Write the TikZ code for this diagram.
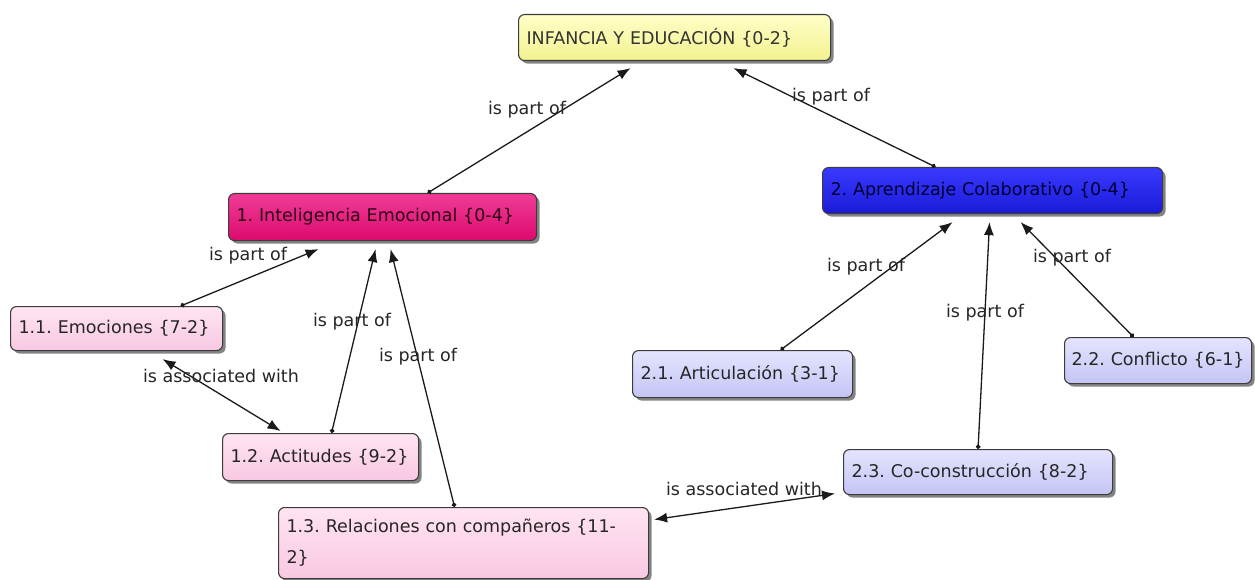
\documentclass[tikz,border=0pt]{standalone}
\usepackage{fontspec}
\setmainfont{DejaVu Sans}
\usetikzlibrary{arrows.meta,shadows}
\definecolor{edgec}{HTML}{1A1A1A}
\definecolor{bord}{HTML}{3C3C3C}
\definecolor{yelT}{HTML}{FFFFC8}
\definecolor{yelB}{HTML}{F2F290}
\definecolor{magT}{HTML}{F03C96}
\definecolor{magB}{HTML}{DC0A6E}
\definecolor{bluT}{HTML}{3A3AFF}
\definecolor{bluB}{HTML}{1A1AD8}
\definecolor{pnkT}{HTML}{FFE4F2}
\definecolor{pnkB}{HTML}{F8C8E2}
\definecolor{lavT}{HTML}{E4E4FF}
\definecolor{lavB}{HTML}{C4C4F4}
\tikzset{
  box/.style={draw=bord, line width=1.1pt, rounded corners=6pt, anchor=north west,
    inner xsep=8pt, align=left, font=\fontsize{17.5}{21}\selectfont,
    drop shadow={shadow xshift=3pt, shadow yshift=-3pt, fill=black!60, opacity=0.8}},
  yelbox/.style={box, top color=yelT, bottom color=yelB, text=black!80},
  magbox/.style={box, top color=magT, bottom color=magB, text=black!80!magB},
  blubox/.style={box, top color=bluT, bottom color=bluB, text=black!80!blue},
  pnkbox/.style={box, top color=pnkT, bottom color=pnkB, text=black!85},
  lavbox/.style={box, top color=lavT, bottom color=lavB, text=black!85},
  rel/.style={draw=edgec, line width=1.3pt, {Circle[length=4.5pt]}-{Latex[length=13pt,width=10pt]}},
  assoc/.style={draw=edgec, line width=1.3pt, {Latex[length=13pt,width=10pt]}-{Latex[length=13pt,width=10pt]}},
  lbl/.style={font=\fontsize{17.5}{21}\selectfont, text=black!85, inner sep=0pt}
}
\begin{document}
\frenchspacing
\begin{tikzpicture}[x=1pt,y=-1pt]
\useasboundingbox[fill=white] (0,0) rectangle (1255,580);
% nodes
\node[yelbox, text width=296pt, minimum height=46pt] (inf) at (518,14) {\mbox{INFANCIA Y EDUCACIÓN \{0-2\}}};
\node[magbox, text width=292pt, minimum height=47pt] (ie) at (228,193) {\mbox{1. Inteligencia Emocional \{0-4\}}};
\node[blubox, text width=324pt, minimum height=46pt] (ac) at (822,167) {\mbox{2. Aprendizaje Colaborativo \{0-4\}}};
\node[pnkbox, text width=196pt, minimum height=44pt] (em) at (10,306) {\mbox{1.1. Emociones \{7-2\}}};
\node[pnkbox, text width=180pt, minimum height=47pt] (at) at (222,433) {\mbox{1.2. Actitudes \{9-2\}}};
\node[pnkbox, text width=354pt, minimum height=71pt, font=\fontsize{17.5}{31}\selectfont] (re) at (278,507) {1.3. Relaciones con compañeros \{11-\\2\}};
\node[lavbox, text width=204pt, minimum height=47pt] (ar) at (632,350) {\mbox{2.1. Articulación \{3-1\}}};
\node[lavbox, inner xsep=7pt, text width=173pt, minimum height=46pt] (co) at (1064,337) {\mbox{2.2. Conflicto \{6-1\}}};
\node[lavbox, text width=253pt, minimum height=45pt] (cc) at (843,449) {\mbox{2.3. Co-construcción \{8-2\}}};
% connectors
\draw[rel] ([xshift=45pt]ie.north) -- ([xshift=-44pt,yshift=-7pt]inf.south);
\draw[rel] ([xshift=-57pt]ac.north) -- ([xshift=59pt,yshift=-7pt]inf.south);
\draw[rel] ([xshift=64pt]em.north) -- ([xshift=-64pt,yshift=-8pt]ie.south);
\draw[rel] ([xshift=11pt]at.north) -- ([xshift=-7pt,yshift=-8pt]ie.south);
\draw[rel] ([xshift=-9pt]re.north) -- ([xshift=8pt,yshift=-8pt]ie.south);
\draw[assoc] ([xshift=46pt,yshift=-8pt]em.south) -- ([xshift=-40pt,yshift=2pt]at.north);
\draw[assoc] ([xshift=5pt,yshift=23.5pt]re.east) -- ([xshift=-8pt,yshift=-21.5pt]cc.west);
\draw[rel] ([xshift=38pt]ar.north) -- ([xshift=-40pt,yshift=-8pt]ac.south);
\draw[rel] (cc.north) -- ([xshift=-3pt,yshift=-8pt]ac.south);
\draw[rel] ([xshift=-24.5pt]co.north) -- ([xshift=28pt,yshift=-8pt]ac.south);
% labels
\node[lbl] (l1) at (527,110) {is part of};
\node[lbl] (l2) at (831,97) {is part of};
\node[lbl] (l3) at (248,256) {is part of};
\node[lbl] (l4) at (352,322) {is part of};
\node[lbl] (l5) at (418,357) {is part of};
\node[lbl] (l6) at (221,376) {is associated with};
\node[lbl] (l7) at (744,489) {is associated with};
\node[lbl] (l8) at (866,267) {is part of};
\node[lbl] (l9) at (985,313) {is part of};
\node[lbl] (l10) at (1072,258) {is part of};
\end{tikzpicture}
\end{document}
